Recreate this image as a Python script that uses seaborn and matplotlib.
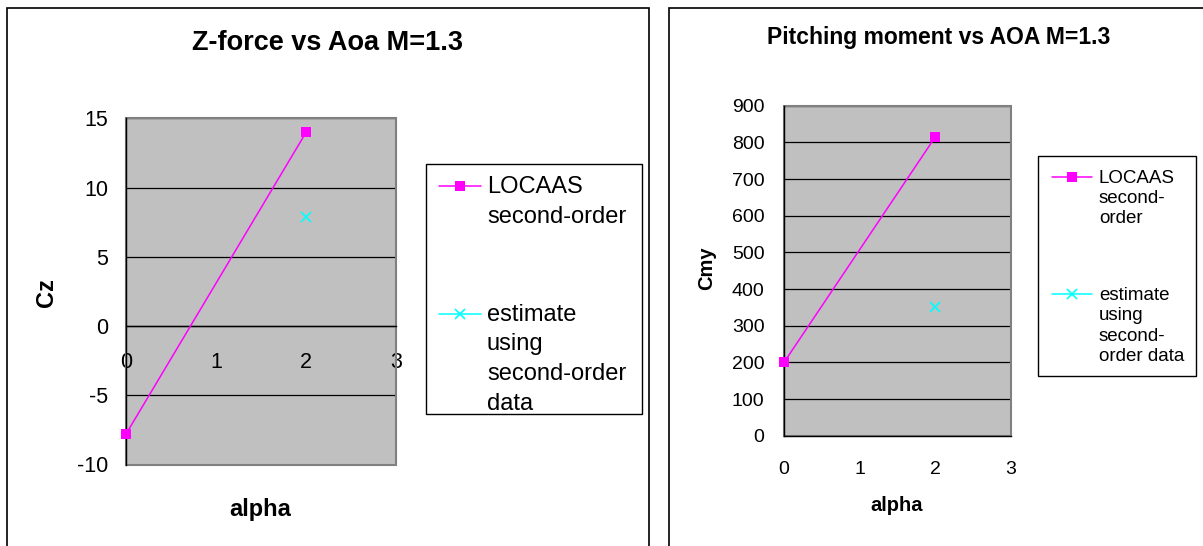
import numpy as np
import matplotlib
matplotlib.use("Agg")
import matplotlib.pyplot as plt
from matplotlib.patches import Rectangle
from matplotlib.legend_handler import HandlerLine2D
import seaborn as sns

# ---- data -------------------------------------------------------------
alpha_ticks = [0, 1, 2, 3]

alpha_locaas = [0, 2]
cz_locaas = [-7.8, 14.0]
cmy_locaas = [200, 815]

alpha_estimate = [2]
cz_estimate = [7.9]
cmy_estimate = [352]

cz_ticks = [-10, -5, 0, 5, 10, 15]
cmy_ticks = [0, 100, 200, 300, 400, 500, 600, 700, 800, 900]

left_title = "Z-force vs Aoa M=1.3"
right_title = "Pitching moment vs AOA M=1.3"
left_labels = ["LOCAAS\nsecond-order", "estimate\nusing\nsecond-order\ndata"]
right_labels = ["LOCAAS\nsecond-\norder", "estimate\nusing\nsecond-\norder data"]

# ---- styling ----------------------------------------------------------
MAGENTA = "#FF00FF"
CYAN = "#00FFFF"
PLOT_BG = "#C0C0C0"
PLOT_EDGE = "#808080"

sns.set_style("white")
plt.rcParams["font.family"] = ["Liberation Sans", "DejaVu Sans"]
plt.rcParams.update({
    "text.color": "black",
    "axes.labelcolor": "black",
    "xtick.color": "black",
    "ytick.color": "black",
    "axes.unicode_minus": False,
})

W, H = 1203, 546
fig = plt.figure(figsize=(W / 100, H / 100), dpi=100)


def px_rect(x0, y0, x1, y1):
    return [x0 / W, 1 - y1 / H, (x1 - x0) / W, (y1 - y0) / H]


class FirstLineHandler(HandlerLine2D):
    """Legend handle aligned with the first line of a multi-line label."""

    def __init__(self, shift, **kw):
        super().__init__(**kw)
        self.shift = shift

    def create_artists(self, legend, orig_handle, xdescent, ydescent,
                       width, height, fontsize, trans):
        arts = super().create_artists(legend, orig_handle, xdescent, ydescent,
                                      width, height, fontsize, trans)
        for a in arts:
            a.set_ydata(np.asarray(a.get_ydata(), dtype=float) + self.shift)
        return arts


def draw_chart(ax, y_main, y_est, yticks, labels, cross_zero, tick_fs, xpad, ypad):
    sns.lineplot(x=alpha_locaas, y=y_main, ax=ax, color=MAGENTA, marker="s",
                 markersize=7, markeredgewidth=0, markeredgecolor=MAGENTA,
                 linewidth=1.1, label=labels[0], legend=False)
    sns.lineplot(x=alpha_estimate, y=y_est, ax=ax, color=CYAN, marker="x",
                 markersize=7, markeredgewidth=1.2, markeredgecolor=CYAN,
                 linewidth=1.1, label=labels[1], legend=False)
    for ln in ax.lines:
        ln.set_clip_on(False)
        ln.set_zorder(3)
    ax.set_facecolor(PLOT_BG)
    ax.set_xlim(alpha_ticks[0], alpha_ticks[-1])
    ax.set_ylim(yticks[0], yticks[-1])
    ax.set_xticks(alpha_ticks)
    ax.set_yticks(yticks)
    ax.set_axisbelow(True)
    ax.yaxis.grid(True, color="black", linewidth=0.9)
    ax.xaxis.grid(False)
    for s in ("top", "right"):
        ax.spines[s].set_visible(False)
    for s in ("left", "bottom"):
        ax.spines[s].set_color("black")
        ax.spines[s].set_linewidth(1.0)
    if cross_zero:
        ax.spines["bottom"].set_position(("data", 0))
    ax.add_patch(Rectangle((0, 0), 1, 1, transform=ax.transAxes, fill=False,
                           edgecolor=PLOT_EDGE, linewidth=1.5, zorder=1.5,
                           clip_on=False))
    ax.tick_params(axis="both", direction="out", length=5, width=0.9,
                   color="black", labelsize=tick_fs, labelcolor="black")
    ax.tick_params(axis="x", pad=xpad)
    ax.tick_params(axis="y", pad=ypad)
    ax.set_xlabel("")
    ax.set_ylabel("")
    return ax.lines[0], ax.lines[1]


def legend_box(ax, x0, y0, x1, y1):
    """White legend panel with a thin black border, in pixel coordinates."""
    ax.add_patch(Rectangle((x0 / W, 1 - y1 / H), (x1 - x0) / W, (y1 - y0) / H,
                           transform=fig.transFigure, facecolor="white",
                           edgecolor="black", linewidth=1.0, zorder=4.9,
                           clip_on=False))


# ---- left chart: Cz ---------------------------------------------------
axL = fig.add_axes(px_rect(126, 118.3, 396.3, 464.5))
l1, l2 = draw_chart(axL, cz_locaas, cz_estimate, cz_ticks, left_labels,
                    cross_zero=True, tick_fs=15.5, xpad=14, ypad=8)
axL.set_title(left_title, x=0.744, y=1.2175, pad=0, va="center",
              fontsize=19.5, fontweight="bold")
axL.set_xlabel("alpha", fontsize=17, fontweight="bold", va="center")
axL.xaxis.set_label_coords(0.496, -0.131)
axL.set_ylabel("Cz", fontsize=17, fontweight="bold", va="center")
axL.yaxis.set_label_coords(-0.295, 0.498)

legend_box(axL, 425.6, 163.5, 641.6, 414)
legL = axL.legend(handles=[l1, l2], labels=left_labels, loc="upper left",
                  bbox_to_anchor=(425.6 / W, 1 - 413 / H, 216 / W, 249.5 / H),
                  bbox_transform=fig.transFigure, mode="expand",
                  borderaxespad=0, frameon=False, fontsize=17,
                  handlelength=1.8, handletextpad=0.25, labelspacing=3.2,
                  borderpad=0.55,
                  handler_map={l1: FirstLineHandler(11.6),
                               l2: FirstLineHandler(32.6)})
for t in legL.get_texts():
    t.set_linespacing(1.45)

# ---- right chart: Cmy -------------------------------------------------
axR = fig.add_axes(px_rect(784, 105.7, 1011, 435.7))
r1, r2 = draw_chart(axR, cmy_locaas, cmy_estimate, cmy_ticks, right_labels,
                    cross_zero=False, tick_fs=14, xpad=13, ypad=9)
axR.set_title(right_title, x=0.683, y=1.208, pad=0, va="center",
              fontsize=16.5, fontweight="bold")
axR.set_xlabel("alpha", fontsize=14.5, fontweight="bold", va="center")
axR.xaxis.set_label_coords(0.498, -0.2115)
axR.set_ylabel("Cmy", fontsize=14.5, fontweight="bold", va="center")
axR.yaxis.set_label_coords(-0.34, 0.508)

legend_box(axR, 1038, 156, 1196, 376)
legR = axR.legend(handles=[r1, r2], labels=right_labels, loc="upper left",
                  bbox_to_anchor=(1038 / W, 1 - 376 / H, 158 / W, 220 / H),
                  bbox_transform=fig.transFigure, mode="expand",
                  borderaxespad=0, frameon=False, fontsize=13.5,
                  handlelength=2.13, handletextpad=0.37, labelspacing=3.2,
                  borderpad=0.75,
                  handler_map={r1: FirstLineHandler(15.8),
                               r2: FirstLineHandler(23.0)})
for t in legR.get_texts():
    t.set_linespacing(1.24)

# ---- chart frames ------------------------------------------------------
for x0, y0, x1, y1 in [(6.7, 8.3, 649, 560), (669.3, 7.6, 1215, 560)]:
    fig.add_artist(Rectangle((x0 / W, 1 - y1 / H), (x1 - x0) / W, (y1 - y0) / H,
                             transform=fig.transFigure, fill=False,
                             edgecolor="black", linewidth=1.2))

fig.savefig("out.png", dpi=100)
